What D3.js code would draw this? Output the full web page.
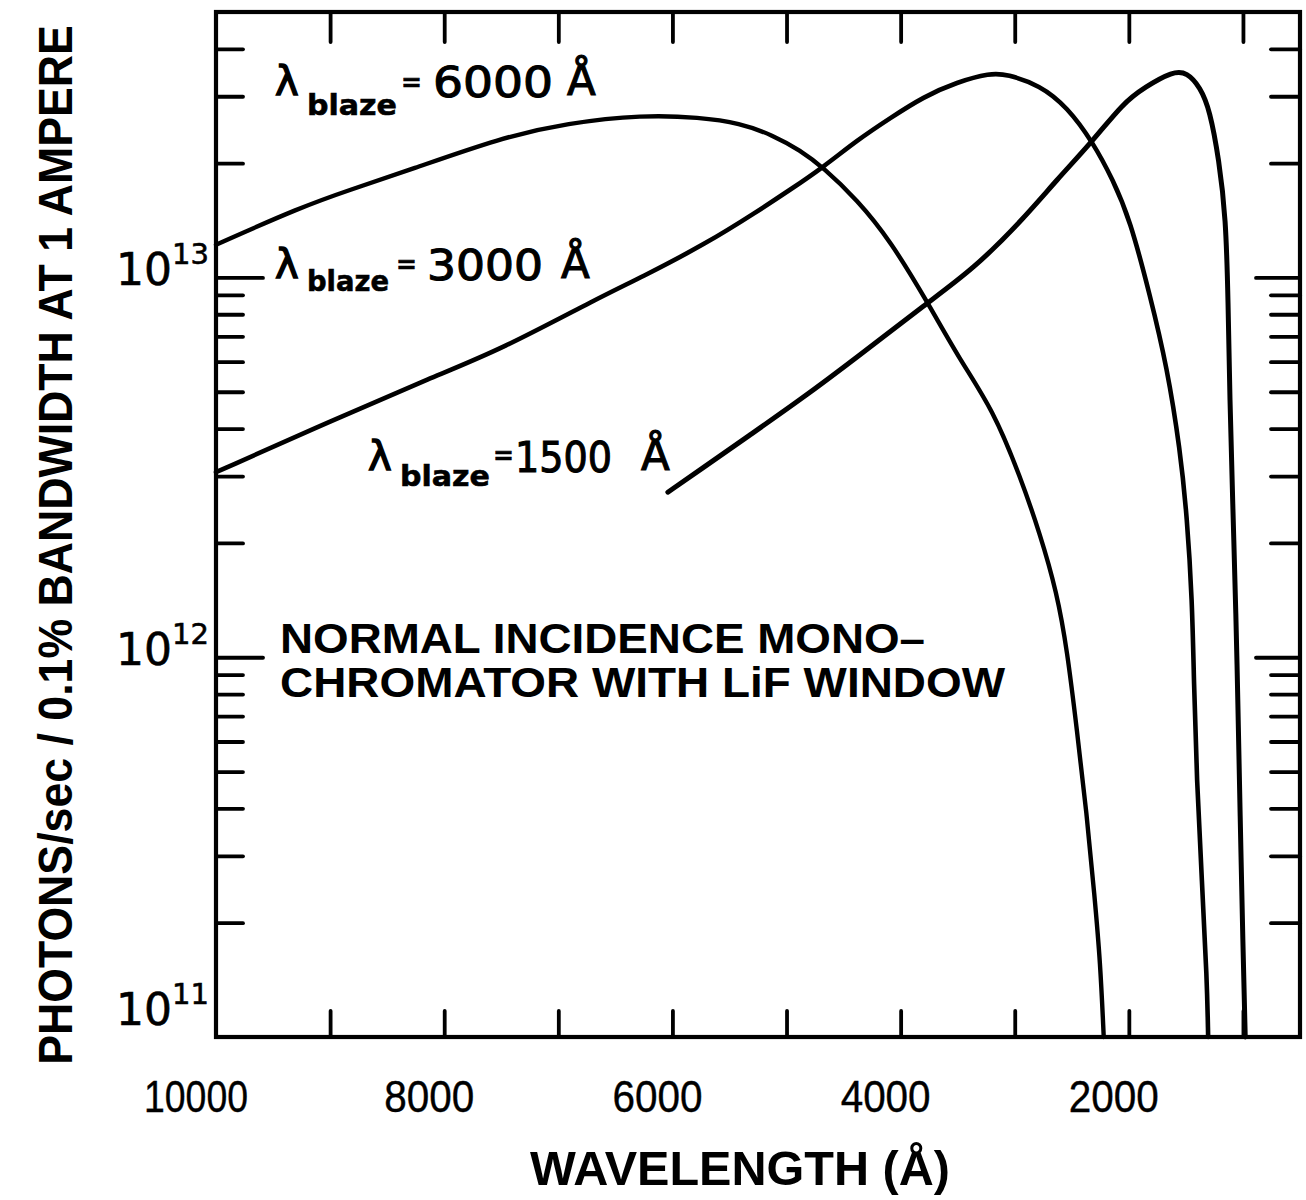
<!DOCTYPE html>
<html>
<head>
<meta charset="utf-8">
<script src="https://cdn.jsdelivr.net/npm/d3@7"></script>
<style>
  html, body { margin: 0; padding: 0; background: #fff; }
  svg { display: block; }
</style>
</head>
<body>
<svg id="chart" width="1306" height="1200"></svg>
<script>
// ---------------- DATA ----------------
// Wavelength (Å) and photon flux (photons/sec/0.1% bandwidth at 1 A)
const blaze6000Wavelength = [10000, 9260, 8830, 8300, 7510, 6920, 6260, 5760, 5410, 5120, 4880, 4680, 4380, 4090, 3760, 3480, 3190, 2950, 2780, 2630, 2540, 2455, 2370, 2300, 2250, 2220];
const blaze6000Flux       = [1.22e13, 1.53e13, 1.70e13, 1.92e13, 2.33e13, 2.55e13, 2.68e13, 2.64e13, 2.55e13, 2.37e13, 2.16e13, 1.95e13, 1.60e13, 1.25e13, 8.56e12, 6.06e12, 4.48e12, 2.98e12, 2.12e12, 1.48e12, 1.04e12, 6.43e11, 3.89e11, 2.34e11, 1.57e11, 1.0e11];

const blaze3000Wavelength = [10000, 8975, 8100, 7510, 6635, 6285, 5700, 5260, 4970, 4680, 4380, 4090, 3800, 3505, 3215, 3070, 2780, 2540, 2315, 2140, 1990, 1815, 1665, 1550, 1490, 1445, 1430, 1405, 1360, 1315, 1305];
const blaze3000Flux       = [3.07e12, 4.21e12, 5.47e12, 6.44e12, 8.88e12, 9.96e12, 1.23e13, 1.49e13, 1.70e13, 1.95e13, 2.30e13, 2.63e13, 2.99e13, 3.27e13, 3.45e13, 3.43e13, 3.21e13, 2.81e13, 2.27e13, 1.81e13, 1.42e13, 8.99e12, 5.81e12, 3.51e12, 2.34e12, 1.41e12, 8.71e11, 4.75e11, 2.59e11, 1.41e11, 1.0e11];

const blaze1500Wavelength = [6040, 5760, 5320, 4880, 4380, 3770, 3365, 2930, 2630, 2325, 2050, 1860, 1615, 1490, 1375, 1290, 1210, 1150, 1130, 1115, 1090, 1060, 1045, 1025, 1000, 980];
const blaze1500Flux       = [2.72e12, 3.11e12, 3.85e12, 4.76e12, 6.17e12, 8.56e12, 1.05e13, 1.42e13, 1.81e13, 2.27e13, 2.88e13, 3.17e13, 3.49e13, 3.47e13, 3.17e13, 2.76e13, 2.04e13, 1.44e13, 8.72e12, 4.76e12, 2.59e12, 1.25e12, 7.71e11, 3.89e11, 1.73e11, 1.0e11];

const xDomain = [10000, 500];
const yDomain = [1e11, 5e13];

const xTickValues  = [9000, 8000, 7000, 6000, 5000, 4000, 3000, 2000, 1000];
const xTickLabels  = [10000, 8000, 6000, 4000, 2000];
const yMajorTicks  = [1e12, 1e13];
const yMinorTicks  = [2e11, 3e11, 4e11, 5e11, 6e11, 7e11, 8e11, 9e11,
                      2e12, 3e12, 4e12, 5e12, 6e12, 7e12, 8e12, 9e12,
                      2e13, 3e13, 4e13];
const yTickLabels  = [1e11, 1e12, 1e13];

// ---------------- CHART ----------------
const svg = d3.select("#chart");
svg.append("rect").attr("width", 1306).attr("height", 1200).attr("fill", "#fff");

const plot = { left: 216, right: 1300, top: 12, bottom: 1037 };

const x = d3.scaleLinear().domain(xDomain).range([plot.left, plot.right]);
const y = d3.scaleLog().domain(yDomain).range([plot.bottom, plot.top]);

const ink = "#000";
const numFont = "'Liberation Sans', Arial, sans-serif";
const dejavu = "'DejaVu Sans', sans-serif";

function styleAxis(g) {
  g.select(".domain").remove();
  g.selectAll(".tick line").attr("stroke", ink).attr("stroke-width", 3.8).attr("stroke-linecap", "round");
  g.selectAll(".tick text").remove();
}

// Bottom ticks (inside)
svg.append("g").attr("transform", `translate(0,${plot.bottom})`)
  .call(d3.axisBottom(x).tickValues(xTickValues).tickSizeInner(-26).tickSizeOuter(0))
  .call(styleAxis);
// Top ticks (inside)
svg.append("g").attr("transform", `translate(0,${plot.top})`)
  .call(d3.axisTop(x).tickValues(xTickValues).tickSizeInner(-30).tickSizeOuter(0))
  .call(styleAxis);
// Left ticks
svg.append("g").attr("transform", `translate(${plot.left},0)`)
  .call(d3.axisLeft(y).tickValues(yMinorTicks).tickSizeInner(-27).tickSizeOuter(0))
  .call(styleAxis);
svg.append("g").attr("transform", `translate(${plot.left},0)`)
  .call(d3.axisLeft(y).tickValues(yMajorTicks).tickSizeInner(-47).tickSizeOuter(0))
  .call(styleAxis);
// Right ticks
svg.append("g").attr("transform", `translate(${plot.right},0)`)
  .call(d3.axisRight(y).tickValues(yMinorTicks).tickSizeInner(-29).tickSizeOuter(0))
  .call(styleAxis);
svg.append("g").attr("transform", `translate(${plot.right},0)`)
  .call(d3.axisRight(y).tickValues(yMajorTicks).tickSizeInner(-44).tickSizeOuter(0))
  .call(styleAxis);

// Frame
svg.append("rect")
  .attr("x", x(xDomain[0])).attr("y", y(yDomain[1]))
  .attr("width", x(xDomain[1]) - x(xDomain[0]))
  .attr("height", y(yDomain[0]) - y(yDomain[1]))
  .attr("fill", "none").attr("stroke", ink).attr("stroke-width", 4.2);

// X tick labels
svg.append("g").selectAll("text").data(xTickLabels).join("text")
  .attr("x", d => x(d) - (d === 10000 ? 20 : 15))
  .attr("y", plot.bottom + 75)
  .attr("text-anchor", "middle")
  .attr("font-family", numFont)
  .attr("font-size", 45)
  .attr("stroke", ink).attr("stroke-width", 0.4)
  .attr("fill", ink)
  .attr("textLength", d => String(d).length === 5 ? 104 : 90)
  .attr("lengthAdjust", "spacingAndGlyphs")
  .text(d => d);

// Y tick labels 10^n
const yl = svg.append("g").selectAll("text").data(yTickLabels).join("text")
  .attr("x", 116)
  .attr("y", d => (d === yDomain[0] ? y(d) - 12 : y(d) + 8))
  .attr("font-family", dejavu)
  .attr("font-size", 44)
  .attr("stroke", ink).attr("stroke-width", 0.6)
  .attr("fill", ink);
yl.append("tspan").text("10");
yl.append("tspan").attr("dy", -21).attr("font-size", 29).text(d => Math.round(Math.log10(d)));

// Curves
const series = [
  { name: "6000", w: blaze6000Wavelength, f: blaze6000Flux, sw: 4.4 },
  { name: "3000", w: blaze3000Wavelength, f: blaze3000Flux, sw: 4.6 },
  { name: "1500", w: blaze1500Wavelength, f: blaze1500Flux, sw: 5 }
];
const line = d3.line()
  .x(d => x(d[0]))
  .y(d => y(d[1]))
  .curve(d3.curveBasis);

svg.append("g").selectAll("path").data(series).join("path")
  .attr("d", s => line(d3.zip(s.w, s.f)))
  .attr("fill", "none")
  .attr("stroke", ink)
  .attr("stroke-width", s => s.sw)
  .attr("stroke-linejoin", "round")
  .attr("stroke-linecap", "round");

// Blaze labels
function blazeLabel(cfg) {
  const g = svg.append("g").attr("fill", ink).attr("stroke", ink);
  g.append("text").attr("x", cfg.lx).attr("y", cfg.by)
    .attr("font-family", dejavu).attr("font-size", 40).attr("stroke-width", 1.4).text("λ");
  g.append("text").attr("x", cfg.lx + 32).attr("y", cfg.sy)
    .attr("font-family", dejavu).attr("font-weight", "bold").attr("font-size", 29).attr("stroke-width", 0.6)
    .attr("textLength", cfg.bw).attr("lengthAdjust", "spacingAndGlyphs").text("blaze");
  g.append("text").attr("x", cfg.ex).attr("y", cfg.ey)
    .attr("font-family", dejavu).attr("font-weight", "bold").attr("font-size", 25).attr("stroke-width", 0.6).text("=");
  g.append("text").attr("x", cfg.nx).attr("y", cfg.by + 2)
    .attr("font-family", dejavu).attr("font-size", 43).attr("stroke-width", 1.1)
    .attr("textLength", cfg.nw).attr("lengthAdjust", "spacingAndGlyphs").text(cfg.value);
  g.append("text").attr("x", cfg.ax).attr("y", cfg.by)
    .attr("font-family", dejavu).attr("font-size", 42).attr("stroke-width", 1.1).text("Å");
}
blazeLabel({ lx: 275, by: 95,  sy: 115, bw: 90, ex: 401, ey: 91,  nx: 433, nw: 120, ax: 567, value: "6000" });
blazeLabel({ lx: 275, by: 278, sy: 291, bw: 82, ex: 396, ey: 273, nx: 427, nw: 116, ax: 561, value: "3000" });
blazeLabel({ lx: 368, by: 470, sy: 486, bw: 90, ex: 493, ey: 464, nx: 515, nw: 97,  ax: 641, value: "1500" });

// Instrument caption
const cap = svg.append("g").attr("fill", ink)
  .attr("font-family", numFont).attr("font-weight", "bold").attr("font-size", 43);
cap.append("text").attr("x", 280).attr("y", 653)
  .attr("textLength", 645).attr("lengthAdjust", "spacingAndGlyphs")
  .text("NORMAL INCIDENCE MONO–");
cap.append("text").attr("x", 280).attr("y", 697)
  .attr("textLength", 725).attr("lengthAdjust", "spacingAndGlyphs")
  .text("CHROMATOR WITH LiF WINDOW");

// Axis titles
svg.append("text")
  .attr("x", 740).attr("y", 1185)
  .attr("text-anchor", "middle")
  .attr("font-family", numFont).attr("font-weight", "bold").attr("font-size", 48)
  .attr("textLength", 420).attr("lengthAdjust", "spacingAndGlyphs")
  .attr("fill", ink)
  .text("WAVELENGTH (Å)");

// Y title: size the font so its natural length fits, then stretch glyph height
const yTitle = svg.append("text")
  .attr("text-anchor", "middle")
  .attr("font-family", numFont).attr("font-weight", "bold").attr("font-size", 48)
  .attr("fill", ink)
  .text("PHOTONS/sec / 0.1%  BANDWIDTH AT 1 AMPERE");
const natural = yTitle.node().getComputedTextLength();
const fitSize = 48 * 1040 / natural;
const stretch = Math.min(1.6, 35 / (0.716 * fitSize));
yTitle.attr("font-size", fitSize)
  .attr("transform", `translate(72,545) rotate(-90) scale(1,${stretch})`);
</script>
</body>
</html>
